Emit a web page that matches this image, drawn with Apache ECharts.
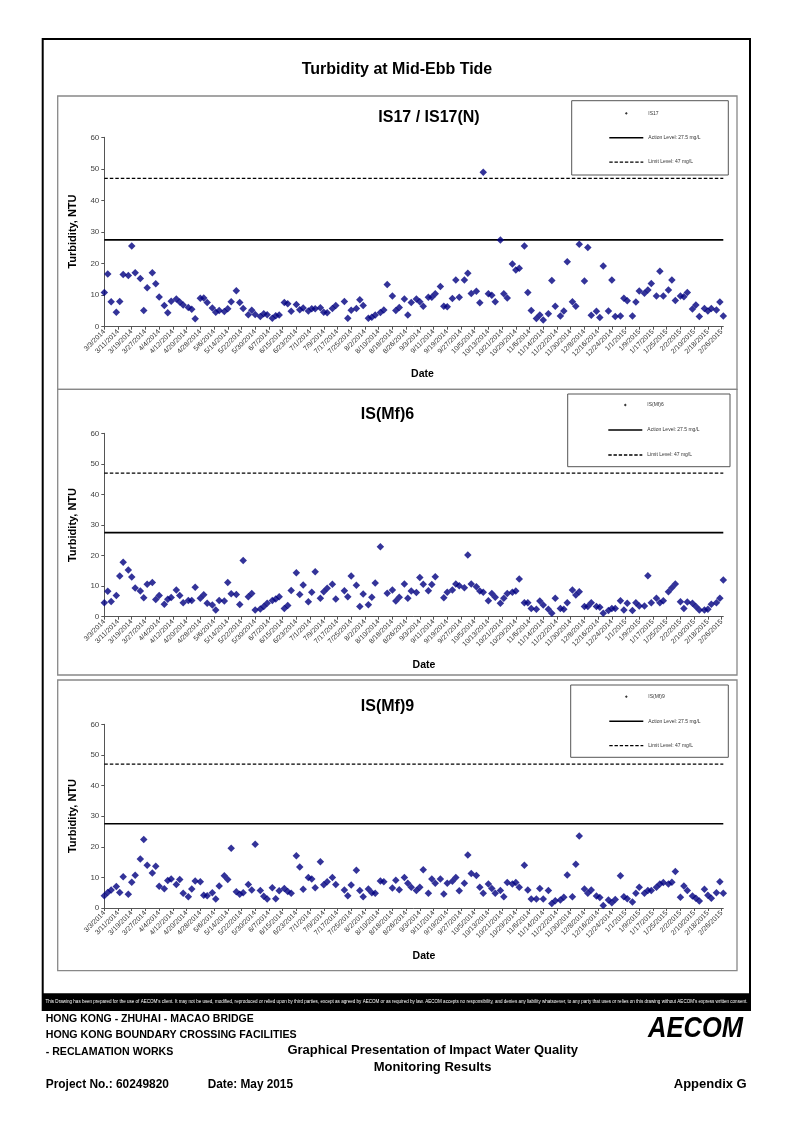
<!DOCTYPE html>
<html><head><meta charset="utf-8">
<script src="https://cdn.jsdelivr.net/npm/echarts@6.0.0/dist/echarts.min.js"></script>
<style>html,body{margin:0;padding:0;background:#fff}#c{width:794px;height:1123px}</style>
</head><body><div id="c"></div>
<script>
// ---------- DATA ----------
const DATES = [
 "3/3/2014","3/5/2014","3/7/2014","3/10/2014","3/12/2014","3/14/2014","3/17/2014","3/19/2014","3/21/2014","3/24/2014","3/26/2014","3/28/2014","3/31/2014",
 "4/2/2014","4/4/2014","4/7/2014","4/9/2014","4/11/2014","4/14/2014","4/16/2014","4/18/2014","4/21/2014","4/23/2014","4/25/2014","4/28/2014","4/30/2014",
 "5/2/2014","5/5/2014","5/7/2014","5/9/2014","5/12/2014","5/14/2014","5/16/2014","5/19/2014","5/21/2014","5/23/2014","5/26/2014","5/28/2014","5/30/2014",
 "6/2/2014","6/4/2014","6/6/2014","6/9/2014","6/11/2014","6/13/2014","6/16/2014","6/18/2014","6/20/2014","6/23/2014","6/25/2014","6/27/2014","6/30/2014",
 "7/2/2014","7/4/2014","7/7/2014","7/9/2014","7/11/2014","7/14/2014","7/16/2014","7/21/2014","7/23/2014","7/25/2014","7/28/2014","7/30/2014",
 "8/1/2014","8/4/2014","8/6/2014","8/8/2014","8/11/2014","8/13/2014","8/15/2014","8/18/2014","8/20/2014","8/22/2014","8/25/2014","8/27/2014","8/29/2014",
 "9/1/2014","9/3/2014","9/5/2014","9/8/2014","9/10/2014","9/12/2014","9/15/2014","9/17/2014","9/19/2014","9/22/2014","9/24/2014","9/26/2014","9/29/2014",
 "10/1/2014","10/3/2014","10/6/2014","10/8/2014","10/10/2014","10/13/2014","10/15/2014","10/17/2014","10/20/2014","10/22/2014","10/24/2014","10/27/2014","10/29/2014","10/31/2014",
 "11/3/2014","11/5/2014","11/7/2014","11/10/2014","11/12/2014","11/14/2014","11/17/2014","11/19/2014","11/21/2014","11/24/2014","11/26/2014","11/28/2014",
 "12/1/2014","12/3/2014","12/5/2014","12/8/2014","12/10/2014","12/12/2014","12/15/2014","12/17/2014","12/19/2014","12/22/2014","12/24/2014","12/26/2014","12/29/2014","12/31/2014",
 "1/2/2015","1/5/2015","1/7/2015","1/9/2015","1/12/2015","1/14/2015","1/16/2015","1/19/2015","1/21/2015","1/23/2015","1/26/2015","1/28/2015","1/30/2015",
 "2/2/2015","2/4/2015","2/6/2015","2/9/2015","2/11/2015","2/13/2015","2/16/2015","2/18/2015","2/20/2015","2/23/2015","2/25/2015","2/27/2015"
];

const TICK_LABELS = [
 "3/3/2014","3/11/2014","3/19/2014","3/27/2014","4/4/2014","4/12/2014","4/20/2014","4/28/2014","5/6/2014","5/14/2014",
 "5/22/2014","5/30/2014","6/7/2014","6/15/2014","6/23/2014","7/1/2014","7/9/2014","7/17/2014","7/25/2014","8/2/2014",
 "8/10/2014","8/18/2014","8/26/2014","9/3/2014","9/11/2014","9/19/2014","9/27/2014","10/5/2014","10/13/2014","10/21/2014",
 "10/29/2014","11/6/2014","11/14/2014","11/22/2014","11/30/2014","12/8/2014","12/16/2014","12/24/2014","1/1/2015","1/9/2015",
 "1/17/2015","1/25/2015","2/2/2015","2/10/2015","2/18/2015","2/26/2015"
];

const IS17 = [
 10.8,16.7,7.9,4.6,8.0,16.5,16.2,25.6,17.1,15.3,
 5.1,12.3,17.1,13.6,9.4,6.7,4.4,8.1,8.8,7.8,
 6.9,6.1,5.5,2.5,9.0,9.1,7.7,5.9,4.6,5.1,
 4.8,5.7,7.9,11.4,7.7,5.8,3.8,5.2,3.9,3.2,
 4.1,3.8,2.7,3.5,3.7,7.7,7.3,4.9,7.0,5.4,
 5.9,5.0,5.7,5.7,6.0,4.6,4.4,5.8,6.7,8.0,
 2.7,5.2,5.8,8.5,6.7,2.7,3.0,3.7,4.5,5.3,
 13.4,9.7,5.1,6.1,8.8,3.7,7.7,8.8,7.9,6.5,
 9.3,9.3,10.4,12.7,6.5,6.3,8.9,14.8,9.3,14.8,
 16.9,10.5,11.2,7.6,48.9,10.4,10.0,7.9,27.5,10.4,
 9.1,19.9,18.0,18.5,25.6,10.8,5.1,2.6,3.7,2.1,
 4.1,14.6,6.5,3.4,5.0,20.6,7.9,6.5,26.1,14.5,
 25.1,3.6,4.9,2.9,19.2,5.0,14.8,3.2,3.4,9.0,
 8.2,3.4,7.8,11.3,10.6,11.6,13.7,9.7,17.6,9.7,
 11.6,14.8,8.3,9.7,9.5,10.8,5.6,6.9,3.2,5.8,
 5.0,5.8,5.3,7.8,3.4
];

const IS_MF6 = [
 4.6,8.3,5.0,6.9,13.3,17.8,15.3,13.0,9.4,8.4,
 6.2,10.6,11.2,5.6,6.9,4.1,5.7,6.3,8.7,6.9,
 4.6,5.3,5.3,9.6,6.0,7.2,4.4,3.8,2.2,5.3,
 5.1,11.2,7.5,7.3,4.0,18.4,6.5,7.6,2.2,2.5,
 3.3,4.4,5.3,5.8,6.5,2.7,3.7,8.6,14.4,7.3,
 10.4,4.9,8.0,14.7,6.0,8.2,9.3,10.6,5.8,8.5,
 6.5,13.3,10.3,3.3,7.4,3.9,6.4,11.0,22.9,null,
 7.7,8.7,5.1,6.4,10.7,6.0,8.4,7.9,12.8,10.6,8.5,10.5,13.1,null,
 6.2,8.0,8.7,10.7,10.1,9.5,20.2,10.7,9.8,8.4,
 8.0,5.2,7.6,6.4,4.4,6.0,7.6,8.0,8.4,12.3,
 4.6,4.6,2.7,2.4,5.1,3.8,2.4,1.1,6.0,2.7,
 2.4,4.6,8.7,7.1,8.2,3.3,3.3,4.6,3.3,3.1,
 1.1,2.0,2.7,2.7,5.2,2.2,4.4,2.0,4.6,3.5,
 3.5,13.4,4.6,6.0,4.6,5.2,8.2,9.5,10.7,4.9,
 2.7,4.8,4.4,3.3,2.2,2.2,2.4,4.1,4.6,6.0,
 12.0
];

const IS_MF9 = [
 4.0,5.1,5.9,7.0,5.1,10.2,4.5,8.4,10.7,16.0,
 22.4,14.0,11.4,13.6,7.1,6.3,9.0,9.5,7.7,9.3,
 4.8,3.7,6.2,8.8,8.6,4.2,4.0,5.0,2.9,7.2,
 10.5,9.3,19.5,5.3,4.5,5.0,7.7,5.9,20.8,5.7,
 3.8,2.9,6.6,3.0,5.6,6.4,5.4,4.8,17.1,13.4,
 6.1,10.0,9.5,6.6,15.1,7.6,8.6,10.0,7.7,5.9,
 4.0,7.5,12.3,5.7,3.7,6.2,5.0,4.8,8.8,8.6,null,
 6.5,9.1,6.0,10.0,8.1,6.8,5.7,6.8,12.5,4.8,9.5,8.1,9.5,
 4.6,8.1,8.7,10.0,5.6,8.1,17.3,11.3,10.6,6.8,
 4.8,7.8,6.4,4.8,5.7,3.7,8.3,7.8,8.3,6.8,
 14.0,5.9,2.9,2.9,6.4,2.9,5.7,1.5,2.4,2.6,
 3.5,10.8,3.7,14.3,23.5,6.2,4.8,5.9,3.9,3.4,
 0.8,2.6,1.7,2.8,10.5,3.7,3.0,2.0,4.8,6.8,
 4.8,5.7,5.7,6.8,7.8,8.3,7.8,8.4,11.9,3.5,
 7.2,5.7,3.9,3.2,2.3,6.1,4.2,3.2,5.0,8.6,
 4.8
];

const STATIONS = ["IS17", "IS(Mf)6", "IS(Mf)9"];
const PANEL_TITLES = ["IS17 / IS17(N)", "IS(Mf)6", "IS(Mf)9"];
const ACTION_LEVEL = 27.5;
const LIMIT_LEVEL = 47;
const ACTION_NAME = "Action Level: 27.5 mg/L";
const LIMIT_NAME = "Limit Level: 47 mg/L";
const Y_MIN = 0, Y_MAX = 60, Y_STEP = 10;

// ---------- helpers ----------
const FONT = "Liberation Sans, Arial, Helvetica, sans-serif";
function dayOf(s){ const p = s.split('/').map(Number); return Math.round((Date.UTC(p[2],p[0]-1,p[1]) - Date.UTC(2014,2,3)) / 864e5); }
const X_MAX = dayOf(DATES[DATES.length-1]);
const TICK_DAYS = TICK_LABELS.map(dayOf);
const LABEL_BY_DAY = {}; TICK_LABELS.forEach(l => LABEL_BY_DAY[dayOf(l)] = l);
function pairs(vals){ const out=[]; vals.forEach((v,i)=>{ if(v!==null) out.push([dayOf(DATES[i]), v]); }); return out; }
const SERIES_VALUES = [IS17, IS_MF6, IS_MF9];
const measureCtx = document.createElement('canvas').getContext('2d');
function fitScale(text, font, w){ measureCtx.font = font; return w / measureCtx.measureText(text).width; }

// legend icons (box 34x14)
const DOT_ICON = 'path://M0,0M34,14M17,5.6L18.4,7L17,8.4L15.6,7Z';
const SOLID_ICON = 'path://M0,0M34,14M0,6.2H34V7.8H0Z';
let dash = 'path://M0,0M34,14';
for (let x = 0; x < 34; x += 5.2) { const e = Math.min(x+3.4, 34); dash += 'M'+x.toFixed(1)+',6.35H'+e.toFixed(1)+'V7.65H'+x.toFixed(1)+'Z'; }
const DASH_ICON = dash;

// ---------- layout ----------
const PANELS = [
 {box:[57.7,96,679.3,293.3], grid:{left:104.3, top:137.3, width:619, height:189.4}, title:[429,118], lbox:[571.7,100.7,156.6,74.3], lleft:609.3, ltop:106.3, lgap:10.4, date:[422.5,374.5], ytitle:[72.7,231.5]},
 {box:[57.7,389.3,679.3,285.7], grid:{left:104.3, top:433.3, width:619, height:183.4}, title:[387.5,415], lbox:[567.7,394,162.3,72.7], lleft:608.3, ltop:398, lgap:11, date:[424,665], ytitle:[72.7,525]},
 {box:[57.7,680,679.3,290.7], grid:{left:104.3, top:724.3, width:619, height:183.7}, title:[387.5,706.7], lbox:[570.7,685,157.6,72.3], lleft:609.3, ltop:689.7, lgap:10.5, date:[424,956], ytitle:[72.7,816]}
];

const grids=[], xAxes=[], yAxes=[], series=[], legends=[], graphics=[];

// page frame
graphics.push({type:'rect', shape:{x:42.7,y:39,width:707.3,height:971}, style:{fill:'none', stroke:'#000', lineWidth:2}, z:1});
graphics.push({type:'rect', shape:{x:42.7,y:993.3,width:707.3,height:16.7}, style:{fill:'#000'}, z:1});
graphics.push({type:'text', x:397, y:69.5, style:{text:'Turbidity at Mid-Ebb Tide', font:'bold 16px '+FONT, fill:'#000', textAlign:'center', textVerticalAlign:'middle'}, z:2});

PANELS.forEach((P, i) => {
  grids.push(Object.assign({containLabel:false}, P.grid));
  xAxes.push({
    type:'value', gridIndex:i, min:0, max:X_MAX,
    axisLine:{show:true, onZero:false, lineStyle:{color:'#555', width:1}},
    axisTick:{show:true, customValues:TICK_DAYS, length:3, lineStyle:{color:'#555', width:1}},
    axisLabel:{show:true, customValues:TICK_DAYS, rotate:45, fontSize:7, color:'#333', fontFamily:FONT, margin:4,
               formatter:v => LABEL_BY_DAY[v] || ''},
    splitLine:{show:false}
  });
  yAxes.push({
    type:'value', gridIndex:i, min:Y_MIN, max:Y_MAX, interval:Y_STEP,
    axisLine:{show:true, lineStyle:{color:'#555', width:1}},
    axisTick:{show:true, length:3, lineStyle:{color:'#555', width:1}},
    axisLabel:{fontSize:8, color:'#444', fontFamily:FONT, margin:5},
    splitLine:{show:false}
  });
  series.push({
    name:ACTION_NAME, type:'line', xAxisIndex:i, yAxisIndex:i, data:[[0,ACTION_LEVEL],[X_MAX,ACTION_LEVEL]],
    symbol:'none', silent:true, itemStyle:{color:'#000'}, lineStyle:{color:'#000', width:1.6}, z:2, animation:false
  });
  series.push({
    name:LIMIT_NAME, type:'line', xAxisIndex:i, yAxisIndex:i, data:[[0,LIMIT_LEVEL],[X_MAX,LIMIT_LEVEL]],
    symbol:'none', silent:true, itemStyle:{color:'#000'}, lineStyle:{color:'#000', width:1.3, type:[3.5,2]}, z:2, animation:false
  });
  series.push({
    name:STATIONS[i], type:'scatter', xAxisIndex:i, yAxisIndex:i, data:pairs(SERIES_VALUES[i]),
    symbol:'diamond', symbolSize:7.5, itemStyle:{color:'#000080'}, z:3, animation:false
  });
  legends.push({
    orient:'vertical', left:P.lleft, top:P.ltop, itemWidth:34, itemHeight:14, itemGap:P.lgap, padding:0,
    selectedMode:false, symbolKeepAspect:true,
    textStyle:{fontSize:5, color:'#333', fontFamily:FONT},
    data:[
      {name:STATIONS[i], icon:DOT_ICON, itemStyle:{color:'#000', borderWidth:0}},
      {name:ACTION_NAME, icon:SOLID_ICON, itemStyle:{color:'#000', borderWidth:0}},
      {name:LIMIT_NAME, icon:DASH_ICON, itemStyle:{color:'#000', borderWidth:0}}
    ]
  });
  graphics.push({type:'rect', shape:{x:P.box[0],y:P.box[1],width:P.box[2],height:P.box[3]}, style:{fill:'none', stroke:'#888', lineWidth:1.3}, z:1});
  graphics.push({type:'rect', shape:{x:P.lbox[0],y:P.lbox[1],width:P.lbox[2],height:P.lbox[3]}, style:{fill:'none', stroke:'#555', lineWidth:1}, z:1});
  graphics.push({type:'text', x:P.title[0], y:P.title[1], style:{text:PANEL_TITLES[i], font:'bold 16px '+FONT, fill:'#000', textAlign:'center', textVerticalAlign:'middle'}, z:2});
  graphics.push({type:'text', x:P.date[0], y:P.date[1], style:{text:'Date', font:'bold 10.5px '+FONT, fill:'#000', textAlign:'center', textVerticalAlign:'middle'}, z:2});
  graphics.push({type:'text', x:P.ytitle[0], y:P.ytitle[1], rotation:Math.PI/2, style:{text:'Turbidity, NTU', font:'bold 11px '+FONT, fill:'#000', textAlign:'center', textVerticalAlign:'middle'}, z:2});
});

// footer
const DISCLAIMER = "This Drawing has been prepared for the use of AECOM's client. It may not be used, modified, reproduced or relied upon by third parties, except as agreed by AECOM or as required by law. AECOM accepts no responsibility, and denies any liability whatsoever, to any party that uses or relies on this drawing without AECOM's express written consent.";
const dFont = '5.5px '+FONT;
graphics.push({type:'text', x:45.5, y:1001.8, scaleX:fitScale(DISCLAIMER, dFont, 702), style:{text:DISCLAIMER, font:dFont, fill:'#fff', textAlign:'left', textVerticalAlign:'middle'}, z:3});

function leftText(t, x, y, font, w){
  graphics.push({type:'text', x:x, y:y, scaleX: w ? fitScale(t, font, w) : 1, style:{text:t, font:font, fill:'#000', textAlign:'left', textVerticalAlign:'middle'}, z:2});
}
const fSmall = 'bold 11px '+FONT;
leftText('HONG KONG - ZHUHAI - MACAO BRIDGE', 45.7, 1018.8, fSmall, 208);
leftText('HONG KONG BOUNDARY CROSSING FACILITIES', 45.7, 1035, fSmall, 251);
leftText('- RECLAMATION WORKS', 45.7, 1051.8, fSmall, 127.6);
const fMid = 'bold 13px '+FONT;
leftText('Project No.: 60249820', 45.7, 1084.5, fMid, 123.3);
leftText('Date: May 2015', 207.7, 1084.5, fMid, 85.3);
graphics.push({type:'text', x:432.7, y:1050.8, style:{text:'Graphical Presentation of Impact Water Quality', font:'bold 13px '+FONT, fill:'#000', textAlign:'center', textVerticalAlign:'middle'}, z:2});
graphics.push({type:'text', x:432.5, y:1067.3, style:{text:'Monitoring Results', font:'bold 13px '+FONT, fill:'#000', textAlign:'center', textVerticalAlign:'middle'}, z:2});
graphics.push({type:'text', x:746.7, y:1084.3, style:{text:'Appendix G', font:'bold 13px '+FONT, fill:'#000', textAlign:'right', textVerticalAlign:'middle'}, z:2});
const logoFont = 'italic bold 30px '+FONT;
graphics.push({type:'text', x:648, y:1028.5, scaleX:fitScale('AECOM', logoFont, 95), style:{text:'AECOM', font:logoFont, fill:'#000', textAlign:'left', textVerticalAlign:'middle'}, z:2});

const chart = echarts.init(document.getElementById('c'), null, {renderer:'canvas'});
chart.setOption({
  backgroundColor:'#fff',
  animation:false,
  textStyle:{fontFamily:FONT},
  grid:grids, xAxis:xAxes, yAxis:yAxes, series:series, legend:legends, graphic:graphics
});
</script>
</body></html>
